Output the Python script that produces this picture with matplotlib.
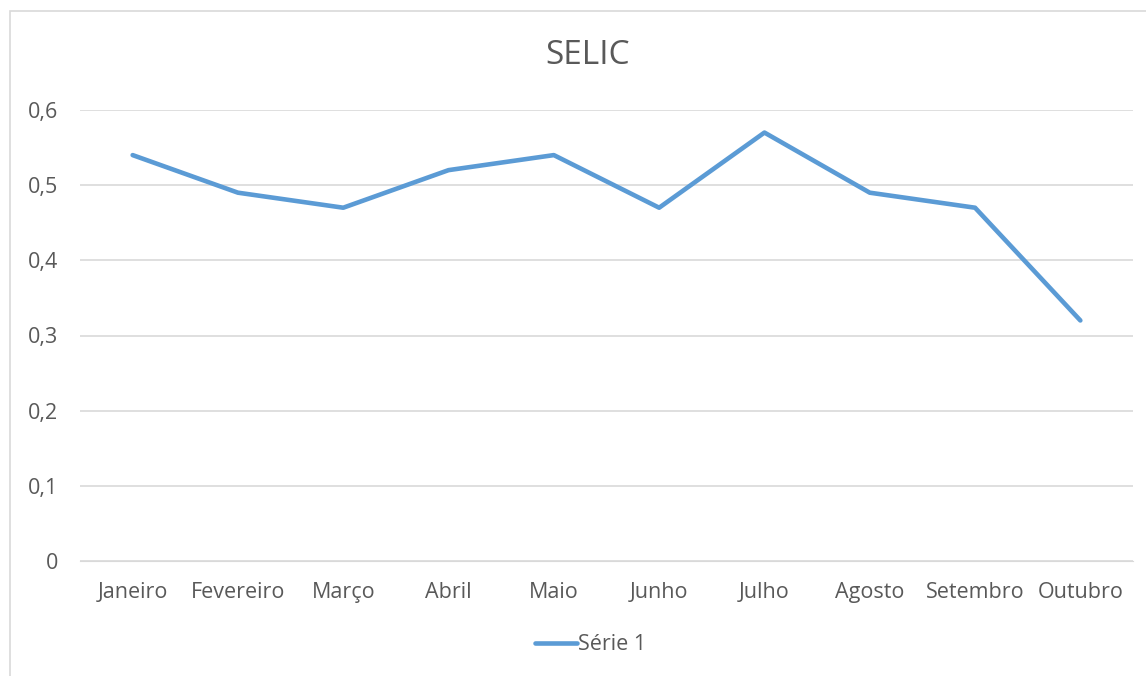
import matplotlib
matplotlib.use('Agg')
import matplotlib.pyplot as plt
from matplotlib.patches import Rectangle

plt.rcParams['font.family'] = ['Open Sans', 'DejaVu Sans']

# data
meses = ['Janeiro', 'Fevereiro', 'Março', 'Abril', 'Maio', 'Junho',
         'Julho', 'Agosto', 'Setembro', 'Outubro']
selic = [0.54, 0.49, 0.47, 0.52, 0.54, 0.47, 0.57, 0.49, 0.47, 0.32]
yticks = [0, 0.1, 0.2, 0.3, 0.4, 0.5, 0.6]
ylabels = ['0', '0,1', '0,2', '0,3', '0,4', '0,5', '0,6']

W, H = 1146, 676
fig = plt.figure(figsize=(W / 100, H / 100), dpi=100)
text_color = '#595959'

# chart frame (partially cut off at right/bottom)
fig.patches.append(Rectangle((10 / W, -0.1), 1.2, 1 - 11 / H + 0.1,
                             transform=fig.transFigure, fill=False,
                             edgecolor='#D9D9D9', linewidth=1.2))

ax = fig.add_axes([80 / W, 1 - 561 / H, (1133 - 80) / W, (561 - 110) / H])
x = list(range(len(meses)))
ax.plot(x, selic, color='#5B9BD5', linewidth=3.3, solid_capstyle='round',
        solid_joinstyle='round', label='Série 1')
ax.set_xlim(-0.5, len(meses) - 0.5)
ax.set_ylim(0, 0.6)
ax.set_yticks(yticks)
ax.set_yticklabels(ylabels)
ax.set_xticks(x)
ax.set_xticklabels(meses)
ax.tick_params(axis='both', length=0, labelsize=15.5, colors=text_color)
ax.tick_params(axis='y', pad=16)
ax.tick_params(axis='x', pad=15)
ax.grid(axis='y', color='#D9D9D9', linewidth=1.2)
ax.set_axisbelow(True)
for s in ax.spines.values():
    s.set_visible(False)
ax.spines['bottom'].set_visible(True)
ax.spines['bottom'].set_color('#D9D9D9')

fig.text(588 / W, 1 - 55 / H, 'SELIC', ha='center', va='center',
         fontsize=24, color=text_color)

leg = fig.legend(loc='center', bbox_to_anchor=(591 / W, 1 - 645 / H),
                 frameon=False, fontsize=15.5, handlelength=1.95,
                 handletextpad=0.05, labelcolor=text_color)

fig.savefig('out.png', dpi=100)
